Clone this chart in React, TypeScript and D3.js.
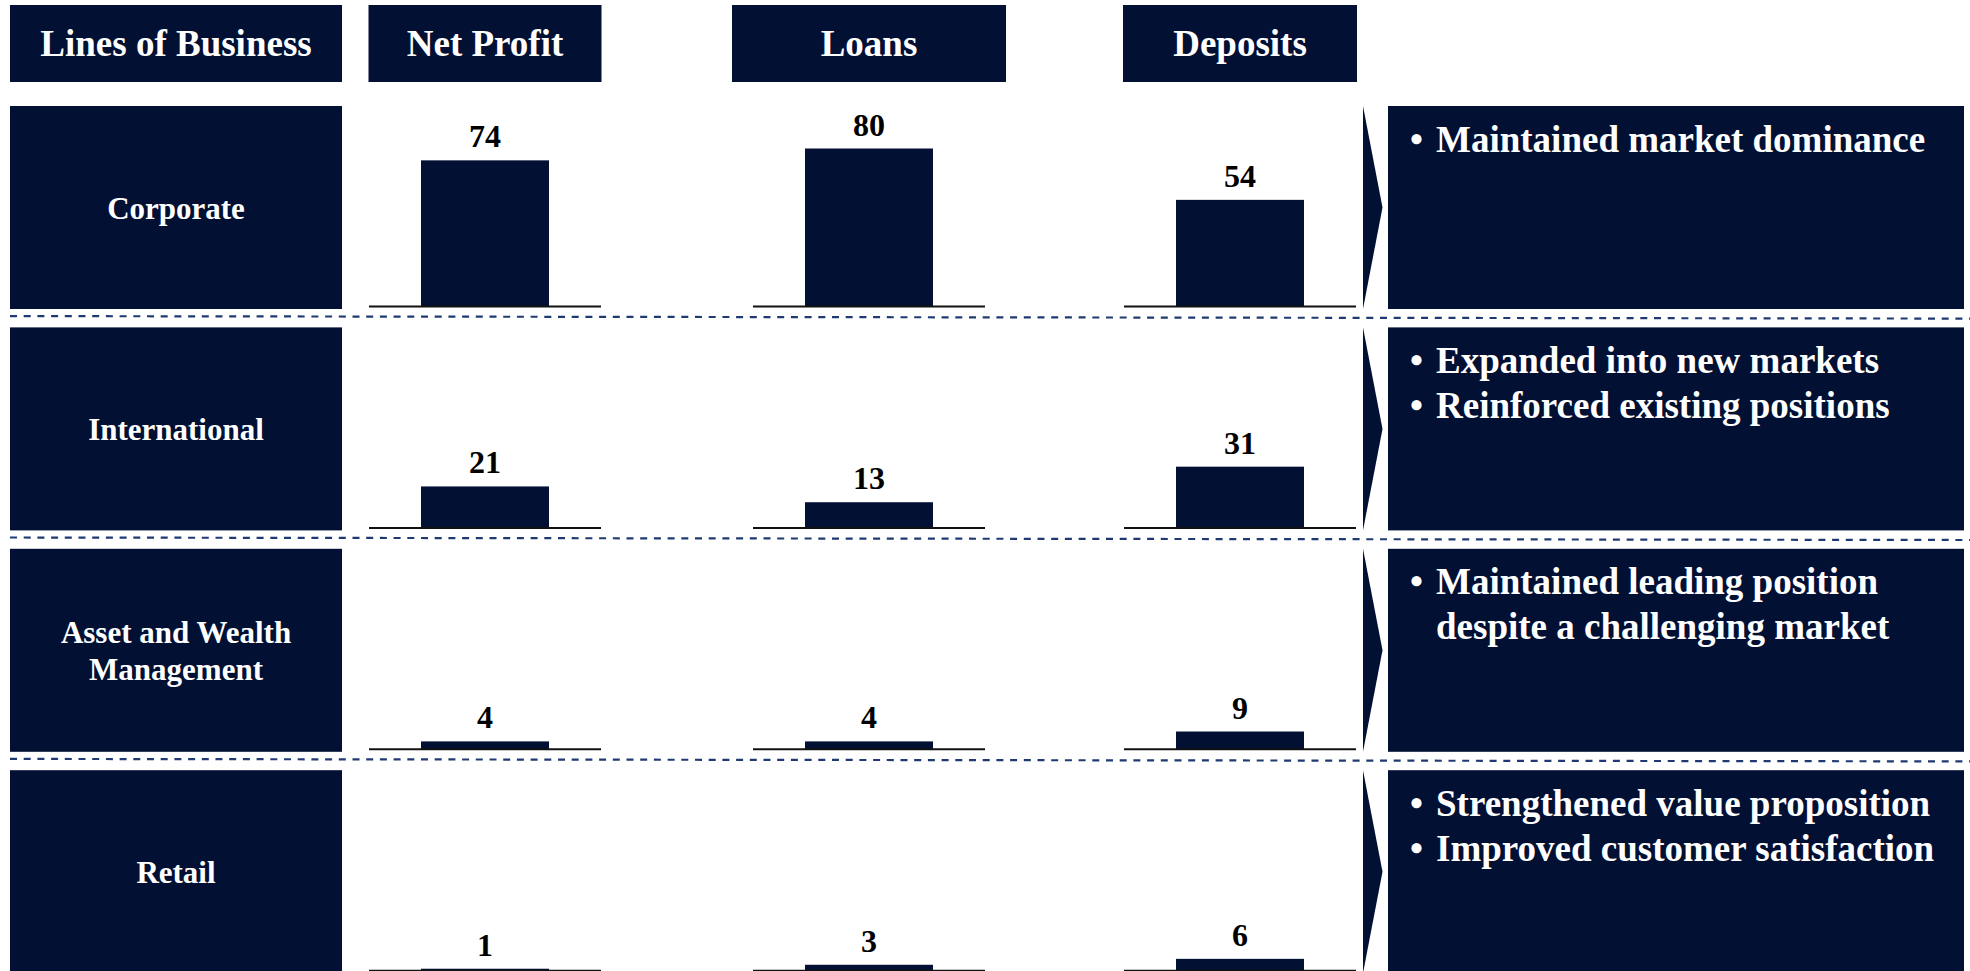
import React from "react";
import * as d3 from "d3";

const businesses = ["Corporate", "International", "Asset and Wealth|Management", "Retail"];
const metrics = ["Net Profit", "Loans", "Deposits"];
const netProfit = [74, 21, 4, 1];
const loans = [80, 13, 4, 3];
const deposits = [54, 31, 9, 6];
const highlights = [
  ["Maintained market dominance"],
  ["Expanded into new markets", "Reinforced existing positions"],
  ["Maintained leading position|despite a challenging market"],
  ["Strengthened value proposition", "Improved customer satisfaction"],
];
const headerTitle = "Lines of Business";

const NAVY = "#021034";
const DASH = "#1f3a72";
const FONT = "'Liberation Serif', 'Times New Roman', serif";

export default function App() {
  const W = 1970;
  const H = 971;
  const series = [netProfit, loans, deposits];

  const rowY = d3
    .scaleBand<number>()
    .domain(d3.range(businesses.length))
    .range([106, 106 + 221.4 * 4])
    .paddingInner(0)
    .paddingOuter(0);
  const rowH = 203;

  const colX = d3.scaleOrdinal<string, number>().domain(metrics).range([485, 869, 1240]);
  const hdrW = [233, 274, 234];
  const barW = 128;
  const baseW = 232;

  const h = d3.scaleLinear().domain([0, 80]).range([0, 158]);

  return (
    <svg
      width={W}
      height={H}
      style={{ position: "absolute", left: 0, top: 0, background: "#fff" }}
      fontFamily={FONT}
      fontWeight="bold"
    >
      {/* Header */}
      <rect x={10} y={5} width={332} height={77} fill={NAVY} />
      <text x={176} y={56} fill="#fff" fontSize={37} textAnchor="middle">
        {headerTitle}
      </text>
      {metrics.map((m, j) => (
        <g key={m}>
          <rect x={colX(m) - hdrW[j] / 2} y={5} width={hdrW[j]} height={77} fill={NAVY} />
          <text x={colX(m)} y={56} fill="#fff" fontSize={37} textAnchor="middle">
            {m}
          </text>
        </g>
      ))}

      {/* Dashed separators */}
      {businesses.slice(1).map((_, i) => {
        const y = rowY(i + 1)! - 11.3;
        return (
          <line
            key={"d" + i}
            x1={10}
            x2={W}
            y1={y}
            y2={y + 2.5}
            stroke={DASH}
            strokeWidth={2.2}
            strokeDasharray="7 6.7"
          />
        );
      })}

      {businesses.map((b, i) => {
        const top = rowY(i)!;
        const cy = top + rowH / 2;
        const base = top + 200.5;
        const lines = b.split("|");
        return (
          <g key={b}>
            <rect x={10} y={top} width={332} height={rowH} fill={NAVY} />
            {lines.length === 1 ? (
              <text x={176} y={cy + 11} fill="#fff" fontSize={31} textAnchor="middle">
                {lines[0]}
              </text>
            ) : (
              lines.map((l, k) => (
                <text
                  key={k}
                  x={176}
                  y={cy - 7.5 + k * 37}
                  fill="#fff"
                  fontSize={31}
                  textAnchor="middle"
                >
                  {l}
                </text>
              ))
            )}

            {metrics.map((m, j) => {
              const v = series[j][i];
              const cx = colX(m);
              const bh = h(v);
              return (
                <g key={m}>
                  <rect x={cx - barW / 2} y={base - bh} width={barW} height={bh} fill={NAVY} />
                  <line
                    x1={cx - baseW / 2}
                    x2={cx + baseW / 2}
                    y1={base}
                    y2={base}
                    stroke="#111"
                    strokeWidth={2}
                  />
                  <text
                    x={cx}
                    y={base - bh - 13}
                    fill="#000"
                    fontSize={32}
                    textAnchor="middle"
                  >
                    {v}
                  </text>
                </g>
              );
            })}

            {/* Arrow */}
            <path
              d={`M1363,${top} L1382.5,${cy} L1363,${top + rowH} Z`}
              fill={NAVY}
            />
            <rect x={1388} y={top} width={576} height={rowH} fill={NAVY} />
            {highlights[i]
              .flatMap((t) => t.split("|").map((s, k) => ({ s, bullet: k === 0 })))
              .map((ln, k) => (
                <g key={k}>
                  {ln.bullet && (
                    <text x={1410} y={top + 45.5 + k * 45} fill="#fff" fontSize={37}>
                      •
                    </text>
                  )}
                  <text x={1436} y={top + 45.5 + k * 45} fill="#fff" fontSize={37}>
                    {ln.s}
                  </text>
                </g>
              ))}
          </g>
        );
      })}
    </svg>
  );
}
